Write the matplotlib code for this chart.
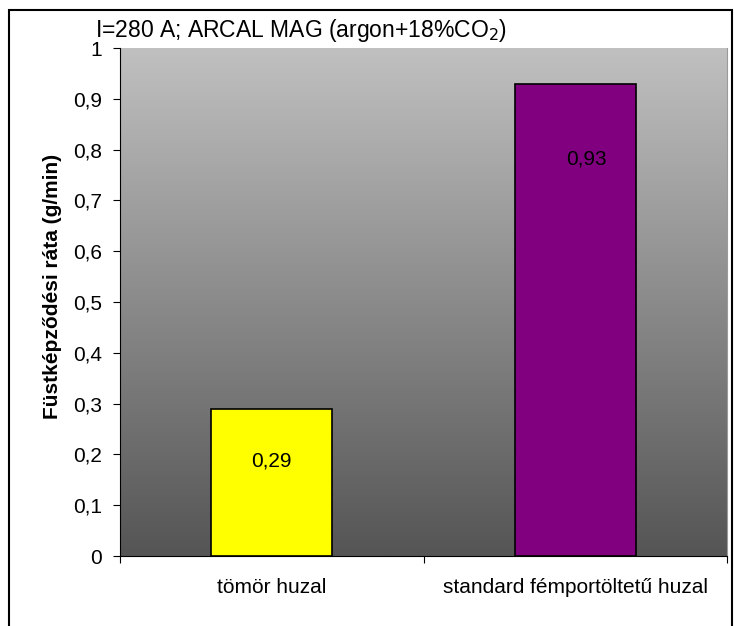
import matplotlib
matplotlib.use("Agg")
import matplotlib.pyplot as plt
import numpy as np
from matplotlib.patches import Rectangle

plt.rcParams['font.family'] = ['Liberation Sans', 'DejaVu Sans']

# ---------- Data ----------
categories = ["tömör huzal", "standard fémportöltetű huzal"]
values = [0.29, 0.93]
value_labels = ["0,29", "0,93"]
bar_colors = ["#ffff00", "#800080"]
yticks = [0, 0.1, 0.2, 0.3, 0.4, 0.5, 0.6, 0.7, 0.8, 0.9, 1.0]
ytick_labels = ["0", "0,1", "0,2", "0,3", "0,4", "0,5", "0,6", "0,7", "0,8", "0,9", "1"]

# label offsets below bar top (points) -- style only
label_offsets = [(0, -38), (8, -54)]

# ---------- Figure ----------
fig = plt.figure(figsize=(7.34, 6.26), dpi=100)
ax = fig.add_axes([120 / 734, 1 - 556 / 626, 607 / 734, 508 / 626])

# gray gradient background of the plot area
grad = np.linspace(0, 1, 256).reshape(256, 1, 1)
top = np.array([192, 192, 192]).reshape(1, 1, 3) / 255
bottom = np.array([85, 85, 85]).reshape(1, 1, 3) / 255
img = bottom + (top - bottom) * grad
ax.imshow(img, extent=[0, 1, 0, 1], transform=ax.transAxes, origin="lower",
          aspect="auto", zorder=0)

x = np.arange(len(categories))
ax.bar(x, values, width=0.4, color=bar_colors, edgecolor="black",
       linewidth=1.2, zorder=2)

for xi, v, lab, off in zip(x, values, value_labels, label_offsets):
    ax.annotate(lab, (xi, v), xytext=off, textcoords="offset points",
                ha="center", va="center", fontsize=15, zorder=3)

ax.set_xlim(-0.5, len(categories) - 0.5)
ax.set_ylim(0, 1)
ax.set_yticks(yticks)
ax.set_yticklabels(ytick_labels, fontsize=15)
ax.set_xticks([-0.5, 0.5, 1.5])
ax.set_xticklabels([])
ax.set_xticks(x, minor=True)
ax.set_xticklabels(categories, minor=True, fontsize=15)
ax.tick_params(axis="x", which="minor", length=0, pad=16)
ax.tick_params(axis="x", which="major", length=5, direction="out", color="black")
ax.tick_params(axis="y", length=5, direction="out", pad=8)

ax.spines["top"].set_visible(False)
ax.spines["right"].set_color("#9a9a9a")
ax.spines["left"].set_color("black")
ax.spines["bottom"].set_color("black")

ax.set_ylabel("Füstképződési ráta (g/min)", fontsize=15, fontweight="bold",
              labelpad=8, y=0.53)

fig.text(95 / 734, 1 - 30 / 626, "I=280 A; ARCAL MAG (argon+18%CO$_2$)",
         fontsize=16.5, va="center", ha="left")

# outer chart border
fig.patches.append(Rectangle((9 / 734, -0.01), 723 / 734, 1 - 10 / 626 + 0.01,
                             transform=fig.transFigure, fill=False,
                             edgecolor="black", linewidth=1.5))

fig.savefig("out.png", dpi=100)
